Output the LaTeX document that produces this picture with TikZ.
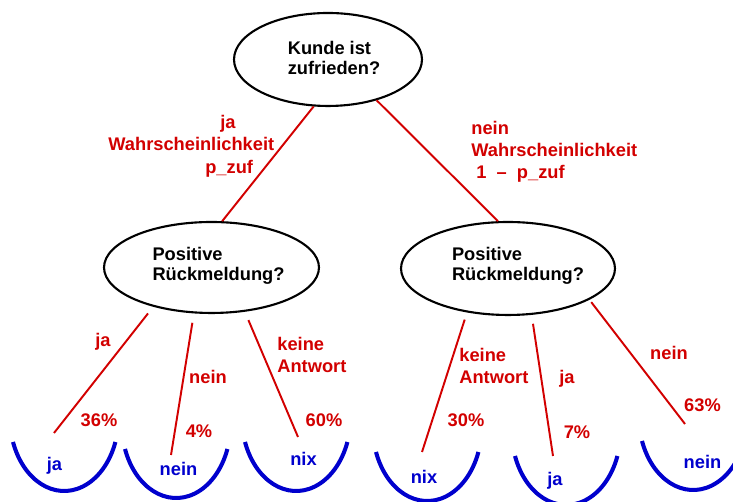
\documentclass[tikz,border=0pt]{standalone}
\usepackage{fontspec}
\setmainfont{Liberation Sans}
\usetikzlibrary{shapes.geometric}
\definecolor{rot}{RGB}{210,0,0}
\definecolor{blau}{RGB}{0,0,205}

\begin{document}
\begin{tikzpicture}[x=0.02cm, y=0.02cm,
						frage/.style={ellipse, draw=black, line width=1.2pt, inner sep=0pt},
						fragetext/.style={align=left, inner sep=0pt, font=\fontsize{10.4}{11.5}\selectfont\bfseries},
						kante/.style={draw=rot, line width=1.1pt},
						wkt/.style={text=rot, align=left, inner sep=0pt, font=\fontsize{10.4}{12}\selectfont\bfseries},
						blatt/.style={text=blau, inner sep=0pt, font=\fontsize{10.4}{12}\selectfont\bfseries},
						schale/.style={draw=blau, line width=2.3pt}
					]
					\useasboundingbox (0,0) rectangle (733,502);
					% Fragen
					\node[frage, minimum width=3.76cm, minimum height=1.86cm] (k0) at (328,442.5) {};
					\node[fragetext] (k0t) at (334,444) {Kunde ist\\zufrieden?};
					\node[frage, minimum width=4.3cm, minimum height=1.82cm] (k1) at (211.5,234.5) {};
					\node[fragetext] (k1t) at (218.5,236) {Positive\\Rückmeldung?};
					\node[frage, minimum width=4.28cm, minimum height=1.86cm] (k2) at (508,233.5) {};
					\node[fragetext] (k2t) at (518,236) {Positive\\Rückmeldung?};
					% Antworten
					\node[blatt] (b1) at (54.5,36) {ja};
					\node[blatt] (b2) at (178.5,33) {nein};
					\node[blatt] (b3) at (303.5,43.5) {nix};
					\node[blatt] (b4) at (424,25) {nix};
					\node[blatt] (b5) at (555,21.5) {ja};
					\node[blatt] (b6) at (702.5,40) {nein};
					\foreach \x/\y in {13/60, 125/53, 245/60, 376/50, 515/46, 642/61}
						\draw[schale] (\x,\y) arc[start angle=200, end angle=340, x radius=1.09cm, y radius=1.49cm];
					\coordinate (e1) at (54,69);
					\coordinate (e2) at (171,47);
					\coordinate (e3) at (298,65);
					\coordinate (e4) at (422,50);
					\coordinate (e5) at (553,46);
					\coordinate (e6) at (685,78);
					% Kanten
					\begin{scope}[kante]
					\draw (k0.253) -- (k1.77);
					\draw (k0.320) -- (k2.102);
					\draw[shorten <=1.7mm] (k1.214) -- (e1);
					\draw[shorten <=1.9mm] (k1.249) -- (e2);
					\draw[shorten <=1.8mm] (k1.307) -- (e3);
					\draw[shorten <=1.5mm] (k2.227) -- (e4);
					\draw[shorten <=1.8mm] (k2.297) -- (e5);
					\draw[shorten <=0.6mm] (k2.339) -- (e6);
					\end{scope}
					% Beschriftungen
					\node[wkt, anchor=west, font=\fontsize{10.4}{12.8}\selectfont\bfseries] (wja) at (108,356) {\hspace*{2.24cm}ja\\Wahrscheinlichkeit\\\hspace*{1.94cm}p\_zuf};
					\node[wkt, anchor=west, font=\fontsize{10.4}{12.4}\selectfont\bfseries] (wnein) at (471,350) {nein\\Wahrscheinlichkeit\\\hspace*{0.1cm}1~~–~~p\_zuf};
					\node[wkt] (lja) at (103,160) {ja};
					\node[wkt] (lnein) at (208,125) {nein};
					\node[wkt, anchor=west] (lkeine) at (277,147) {keine\\Antwort};
					\node[wkt, anchor=west] (rkeine) at (459,136) {keine\\Antwort};
					\node[wkt] (rja) at (567,123) {ja};
					\node[wkt] (rnein) at (669,149) {nein};
					\node[wkt] (p36) at (99,82) {36\%};
					\node[wkt] (p4) at (199,71) {4\%};
					\node[wkt] (p60) at (324,82) {60\%};
					\node[wkt] (p30) at (466,82) {30\%};
					\node[wkt] (p7) at (577,70) {7\%};
					\node[wkt] (p63) at (702.5,97) {63\%};
					\end{tikzpicture}
\end{document}
